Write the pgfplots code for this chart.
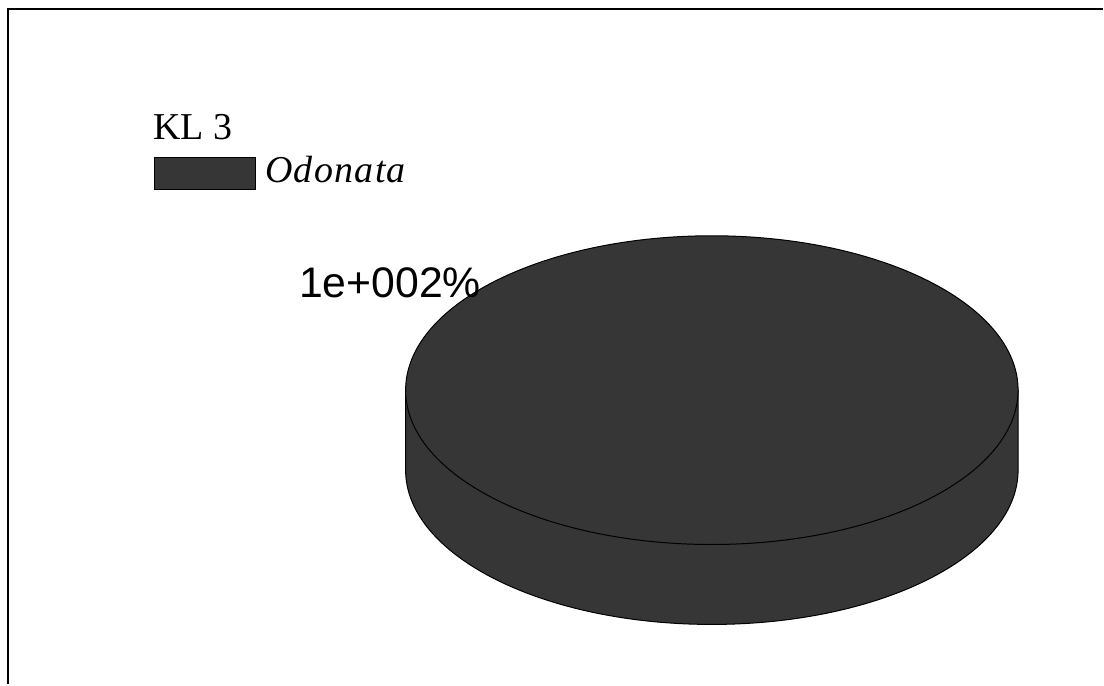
\documentclass[border=0pt]{standalone}
\usepackage{pgfplots}
\pgfplotsset{compat=1.18}
\usepackage{pgfplotstable}
\usepackage{fontspec}
\setmainfont{Liberation Serif}
\newfontfamily\arialfont{Liberation Sans}
\newfontfamily\spacedit[LetterSpace=3.5]{Liberation Serif Italic}
\definecolor{piegray}{RGB}{54,54,54}
\pgfplotstableread{
label value
Odonata 100
}\piedata
\begin{document}
\begin{tikzpicture}
\pgfplotstablegetelem{0}{value}\of\piedata
\pgfmathsetmacro{\sweep}{3.6*\pgfplotsretval}
\begin{axis}[
  x=0.5pt, y=0.5pt,
  xmin=0, xmax=1104, ymin=0, ymax=685,
  scale only axis, hide axis, clip=false,
]
\path (axis cs:0,0) rectangle (axis cs:1104,685);
% frame (top and left)
\draw[line width=1pt] (axis cs:8,0) -- (axis cs:8,675.5) -- (axis cs:1104,675.5);
% side of the 3D pie
\fill[piegray] (axis cs:406,294.5) -- (axis cs:406,214.5)
   arc[start angle=180, end angle=360, x radius=153.25pt, y radius=77.25pt]
   -- (axis cs:1019,294.5)
   arc[start angle=0, end angle=-180, x radius=153.25pt, y radius=77.25pt] -- cycle;
\draw[line width=0.5pt] (axis cs:406,294.5) -- (axis cs:406,214.5)
   arc[start angle=180, end angle=360, x radius=153.25pt, y radius=77.25pt]
   -- (axis cs:1019,294.5);
% top of the pie: one slice of value 100
\filldraw[fill=piegray, draw=black, line width=0.5pt]
   (axis cs:1019,294.5) arc[start angle=0, delta angle=\sweep, x radius=153.25pt, y radius=77.25pt] -- cycle;
% value label
\node[anchor=base west, inner sep=0pt, font=\arialfont\fontsize{21.4}{25}\selectfont]
   at (axis cs:299,387) {1e+002\%};
% legend
\node[anchor=base west, inner sep=0pt, font=\fontsize{19}{23}\selectfont]
   at (axis cs:153,545) {KL 3};
\filldraw[fill=piegray, draw=black, line width=0.3pt]
   (axis cs:154,528) rectangle (axis cs:256,496);
\node[anchor=base west, inner sep=0pt, font=\spacedit\fontsize{19}{23}\selectfont]
   at (axis cs:265,502) {Odonata};
\end{axis}
\end{tikzpicture}
\end{document}
